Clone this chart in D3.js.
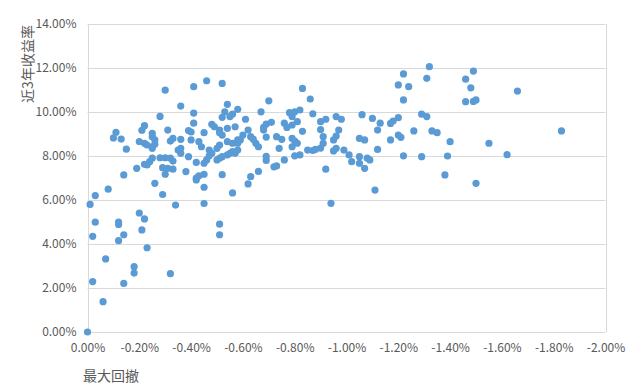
<!DOCTYPE html>
<html>
<head>
<meta charset="utf-8">
<title>最大回撤 vs 近3年收益率</title>
<script src="https://cdnjs.cloudflare.com/ajax/libs/d3/7.8.5/d3.min.js"></script>
<style>
body{
margin:0;
background:#fff
}
svg{
display:block
}
text{
font-family:"Microsoft YaHei","Noto Sans CJK SC","Noto Sans",sans-serif;
fill:#595959
}
</style>
</head>
<body>
<svg width="640" height="389"></svg>

<script>

// [最大回撤 %, 近3年收益率 %]
var funds = [
  [0.00,0.00],[-0.06,1.38],[-0.02,2.29],[-0.07,3.32],[-0.02,4.35],[-0.03,4.99],[-0.01,5.80],[-0.03,6.20],
  [-0.08,6.49],[-0.12,5.00],[-0.12,4.89],[-0.12,4.15],[-0.14,4.42],[-0.14,2.21],[-0.18,2.97],[-0.18,2.68],
  [-0.20,5.41],[-0.22,5.14],[-0.21,4.64],[-0.23,3.83],[-0.32,2.65],[-0.14,7.14],[-0.19,7.44],[-0.26,6.76],
  [-0.29,6.25],[-0.34,5.77],[-0.45,5.84],[-0.45,6.58],[-0.51,4.90],[-0.51,4.42],[-0.56,6.32],[-0.62,6.73],
  [-0.63,7.06],[-0.66,7.30],[-0.52,7.15],[-0.94,5.85],[-1.11,6.45],[-1.38,7.14],[-1.50,6.76],

  [-0.30,10.99],[-0.41,11.15],[-0.46,11.42],[-0.52,11.30],[-0.36,10.27],[-0.41,9.95],[-0.28,9.80],[-0.54,10.35],
  [-0.53,10.01],[-0.52,9.76],[-0.55,9.79],[-0.56,9.90],[-0.58,10.12],[-0.41,9.49],[-0.22,9.38],[-0.21,9.17],
  [-0.11,9.08],[-0.10,8.82],[-0.13,8.77],[-0.31,9.18],[-0.48,9.44],[-0.49,9.33],[-0.51,9.18],[-0.51,9.06],
  [-0.52,8.95],[-0.39,9.16],[-0.40,9.09],[-0.45,9.06],[-0.54,9.26],[-0.57,9.33],[-0.25,9.03],[-0.25,8.88],
  [-0.33,8.80],[-0.36,8.76],[-0.40,8.73],[-0.20,8.66],[-0.22,8.58],[-0.23,8.50],[-0.25,8.42],[-0.25,8.35],
  [-0.26,8.53],[-0.26,8.73],[-0.15,8.31],[-0.32,8.68],[-0.43,8.65],[-0.44,8.42],[-0.47,8.27],[-0.50,8.35],
  [-0.51,8.50],[-0.54,8.65],[-0.56,8.58],[-0.58,8.73],[-0.35,8.27],[-0.36,8.35],[-0.36,8.12],[-0.39,7.97],
  [-0.28,7.92],[-0.30,7.92],[-0.32,7.90],[-0.33,7.77],[-0.25,7.90],[-0.24,7.74],[-0.23,7.59],[-0.22,7.62],
  [-0.29,7.47],[-0.31,7.44],[-0.33,7.40],[-0.30,7.17],[-0.42,7.71],[-0.45,7.67],[-0.46,7.82],[-0.47,8.01],
  [-0.48,8.12],[-0.50,7.82],[-0.51,7.90],[-0.52,7.97],[-0.54,8.05],[-0.55,8.12],[-0.57,8.12],[-0.38,7.29],
  [-0.42,6.99],[-0.43,7.10],[-0.45,7.17],[-0.42,6.91],

  [-0.83,11.07],[-0.86,10.59],[-0.70,10.51],[-0.67,10.01],[-0.78,9.97],[-0.80,10.01],[-0.82,10.09],[-0.79,9.79],
  [-0.81,9.56],[-0.87,9.92],[-0.61,9.67],[-0.71,9.53],[-0.69,9.45],[-0.68,9.30],[-0.68,9.18],[-0.76,9.49],
  [-0.77,9.30],[-0.79,9.41],[-0.90,9.56],[-0.92,9.67],[-0.96,9.79],[-0.98,9.67],[-0.62,9.18],[-0.83,9.12],
  [-0.90,9.20],[-0.97,9.18],[-0.96,8.91],[-0.95,8.73],[-0.59,8.73],[-0.60,8.95],[-0.63,8.88],[-0.64,8.76],
  [-0.65,8.58],[-0.66,8.42],[-0.69,8.86],[-0.73,8.88],[-0.75,8.76],[-0.79,8.80],[-0.80,8.68],[-0.81,8.58],
  [-0.79,8.42],[-0.91,8.88],[-0.91,8.58],[-0.90,8.36],[-0.88,8.30],[-0.87,8.25],[-0.85,8.27],[-0.96,8.35],
  [-0.95,8.23],[-0.99,8.27],[-1.01,8.05],[-1.02,7.74],[-0.58,8.58],[-0.58,8.27],[-0.56,8.20],[-0.74,8.35],
  [-0.69,7.98],[-0.69,7.80],[-0.76,7.82],[-0.80,8.01],[-0.82,8.05],[-0.72,7.51],[-0.73,7.55],[-0.92,7.40],

  [-1.32,12.06],[-1.22,11.73],[-1.31,11.53],[-1.20,11.23],[-1.24,11.15],[-1.22,10.55],[-1.49,11.86],[-1.46,11.49],
  [-1.48,11.10],[-1.46,10.47],[-1.49,10.48],[-1.50,10.55],[-1.66,10.95],[-1.06,9.88],[-1.10,9.71],[-1.13,9.49],
  [-1.12,9.18],[-1.18,9.59],[-1.17,9.48],[-1.20,9.74],[-1.29,9.90],[-1.31,9.79],[-1.26,9.14],[-1.33,9.14],
  [-1.35,9.06],[-1.20,8.95],[-1.21,8.85],[-1.17,8.73],[-1.40,8.65],[-1.05,8.80],[-1.07,8.73],[-1.05,7.97],
  [-1.05,7.67],[-1.07,7.44],[-1.08,7.90],[-1.09,7.82],[-1.12,8.30],[-1.22,8.01],[-1.29,7.97],[-1.39,8.00],
  [-1.55,8.58],[-1.62,8.06],[-1.83,9.14]
]

var xTicks = [0,-0.2,-0.4,-0.6,-0.8,-1.0,-1.2,-1.4,-1.6,-1.8,-2.0]
var yTicks = [0,2,4,6,8,10,12,14]
var xTitle = '最大回撤'
var yTitle = '近3年收益率'

var svg = d3.select('svg')

var x = d3.scaleLinear().domain([0,-2]).range([87.5,605.5])
var y = d3.scaleLinear().domain([0,14]).range([332,24])

var pct = v => v.toFixed(2) + '%'

// gridlines
svg.append('g')
	.selectAll('line')
	.data(yTicks)
	.join('line')
	.attr('x1', x(0))
	.attr('x2', x(-2))
	.attr('y1', d => Math.round(y(d)) + 0.5)
	.attr('y2', d => Math.round(y(d)) + 0.5)
	.attr('stroke', '#d9d9d9')
	.attr('stroke-width', 1)

// left axis line and right border
svg.append('g')
	.selectAll('line')
	.data([0,-2])
	.join('line')
	.attr('x1', d => Math.round(x(d)) + 0.5)
	.attr('x2', d => Math.round(x(d)) + 0.5)
	.attr('y1', y(14))
	.attr('y2', y(0))
	.attr('stroke', '#d9d9d9')

// y axis
const yAxis = svg.append('g')
	.attr('transform', 'translate(' + (x(0) - 11) + ',0)')
	.call(d3.axisLeft(y).tickValues(yTicks).tickFormat(pct).tickSize(0).tickPadding(0))
yAxis.select('.domain').remove()
yAxis.selectAll('text').attr('font-size', 12).attr('fill', '#595959')

// x axis
const xAxis = svg.append('g')
	.attr('transform', 'translate(0,' + (y(0) + 8) + ')')
	.call(d3.axisBottom(x).tickValues(xTicks).tickFormat(pct).tickSize(0).tickPadding(3))
xAxis.select('.domain').remove()
xAxis.selectAll('text').attr('font-size', 12).attr('fill', '#595959')

// points
svg.append('g')
	.attr('fill', '#5b9bd5')
	.selectAll('circle')
	.data(funds)
	.join('circle')
	.attr('cx', d => x(d[0]))
	.attr('cy', d => y(d[1]))
	.attr('r', 3.6)

// titles
svg.append('text')
	.attr('x', 83)
	.attr('y', 381)
	.attr('font-size', 14)
	.text(xTitle)

svg.append('text')
	.attr('transform', 'translate(33,64) rotate(-90)')
	.attr('text-anchor', 'middle')
	.attr('font-size', 14)
	.text(yTitle)

</script>
</body>
</html>
